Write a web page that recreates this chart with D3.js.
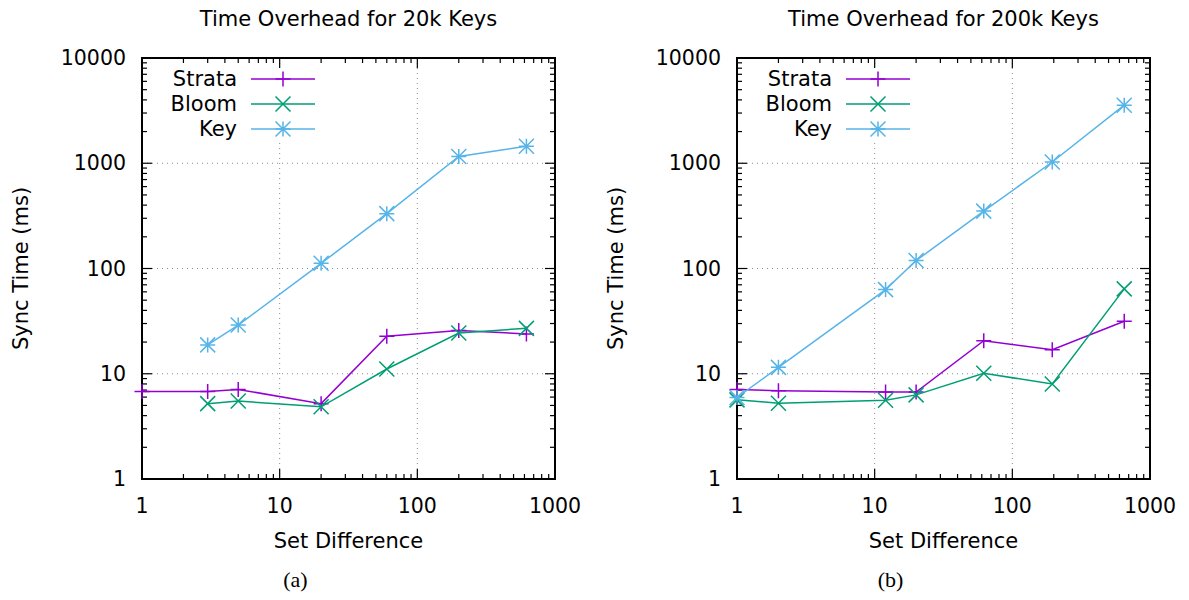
<!DOCTYPE html>
<html>
<head>
<meta charset="utf-8">
<script src="https://cdn.jsdelivr.net/npm/d3@7"></script>
<style>
  body { margin: 0; background: #fff; }
  text { font-family: "DejaVu Sans", sans-serif; fill: #000; }
  .tag { font-family: "Liberation Serif", "DejaVu Serif", serif; }
</style>
</head>
<body>
<svg id="chart" width="1189" height="600"></svg>
<script>

// series names, colours and marker types
var series_names = ["Strata", "Bloom", "Key"]
var series_colors = ["#9400d3", "#009e73", "#56b4e9"]
var series_markers = ["plus", "cross", "star"]

// panel (a): 20k keys
var diff_20k = [1, 3, 5, 20, 60, 200, 620]
var strata_20k = [6.8, 6.8, 7.1, 5.2, 22.7, 25.7, 23.9]
var bloom_20k = [null, 5.2, 5.5, 4.85, 11.1, 24.4, 27]
var key_20k = [null, 18.8, 29, 112, 332, 1160, 1450]

// panel (b): 200k keys
var diff_200k = [1, 2, 12, 20, 62, 195, 650]
var strata_200k = [7.1, 6.9, 6.7, 6.7, 20.6, 16.9, 31.5]
var bloom_200k = [5.65, 5.25, 5.6, 6.3, 10.1, 8.0, 64]
var key_200k = [5.95, 11.5, 63, 119, 351, 1028, 3560]

// axis ticks
var x_ticks = [1, 10, 100, 1000]
var y_ticks = [1, 10, 100, 1000, 10000]

var panels = [
  { left: 142, title: "Time Overhead for 20k Keys", tag: "(a)", x: diff_20k, ys: [strata_20k, bloom_20k, key_20k] },
  { left: 737, title: "Time Overhead for 200k Keys", tag: "(b)", x: diff_200k, ys: [strata_200k, bloom_200k, key_200k] }
]

var svg = d3.select("#chart")
var plot_w = 413, plot_top = 58, plot_bottom = 479

// minor tick values between decades
function minor_ticks(lo, hi){
  var out = []
  for (var d = lo; d < hi; d *= 10)
    for (var k = 2; k < 10; k++) out.push(d * k)
  return out
}

// draw a gnuplot-style point marker
function draw_marker(g, type, cx, cy, color){
  var s = 7.5
  var path = ""
  if (type == "plus" || type == "star")
    path += "M" + (cx - s) + "," + cy + "H" + (cx + s) + "M" + cx + "," + (cy - s) + "V" + (cy + s)
  if (type == "cross" || type == "star")
    path += "M" + (cx - s) + "," + (cy - s) + "L" + (cx + s) + "," + (cy + s) +
            "M" + (cx - s) + "," + (cy + s) + "L" + (cx + s) + "," + (cy - s)
  g.append("path")
    .attr("d", path)
    .attr("stroke", color)
    .attr("stroke-width", 1.5)
    .attr("fill", "none")
}

function draw_panel(p){

  var x = d3.scaleLog().domain([1, 1000]).range([p.left, p.left + plot_w])
  var y = d3.scaleLog().domain([1, 10000]).range([plot_bottom, plot_top])
  var g = svg.append("g")
  var cx = p.left + plot_w / 2

  // grid
  g.selectAll(".gx").data(x_ticks.slice(1, -1)).enter().append("line")
    .attr("x1", function(d){ return x(d) }).attr("x2", function(d){ return x(d) })
    .attr("y1", plot_top).attr("y2", plot_bottom)
    .attr("stroke", "#8c8c8c").attr("stroke-width", 1).attr("stroke-dasharray", "1,4")
  g.selectAll(".gy").data(y_ticks.slice(1, -1)).enter().append("line")
    .attr("y1", function(d){ return y(d) }).attr("y2", function(d){ return y(d) })
    .attr("x1", p.left).attr("x2", p.left + plot_w)
    .attr("stroke", "#8c8c8c").attr("stroke-width", 1).attr("stroke-dasharray", "1,4")

  // legend background hides the grid
  g.append("rect")
    .attr("x", p.left + 8).attr("y", plot_top + 6)
    .attr("width", 178).attr("height", 78)
    .attr("fill", "#fff")

  // ticks on all four sides
  var ticks = g.append("g").attr("stroke", "#000").attr("stroke-width", 1.2)
  x_ticks.concat(minor_ticks(1, 1000)).forEach(function(d){
    var len = x_ticks.indexOf(d) >= 0 ? 10 : 5
    ticks.append("line").attr("x1", x(d)).attr("x2", x(d)).attr("y1", plot_bottom).attr("y2", plot_bottom - len)
    ticks.append("line").attr("x1", x(d)).attr("x2", x(d)).attr("y1", plot_top).attr("y2", plot_top + len)
  })
  y_ticks.concat(minor_ticks(1, 10000)).forEach(function(d){
    var len = y_ticks.indexOf(d) >= 0 ? 10 : 5
    ticks.append("line").attr("y1", y(d)).attr("y2", y(d)).attr("x1", p.left).attr("x2", p.left + len)
    ticks.append("line").attr("y1", y(d)).attr("y2", y(d)).attr("x1", p.left + plot_w).attr("x2", p.left + plot_w - len)
  })

  // frame
  g.append("rect")
    .attr("x", p.left).attr("y", plot_top)
    .attr("width", plot_w).attr("height", plot_bottom - plot_top)
    .attr("fill", "none").attr("stroke", "#000").attr("stroke-width", 2)

  // tick labels
  g.selectAll(".xl").data(x_ticks).enter().append("text")
    .attr("x", function(d){ return x(d) }).attr("y", plot_bottom + 34)
    .attr("text-anchor", "middle").style("font-size", "20.5px")
    .text(function(d){ return d })
  g.selectAll(".yl").data(y_ticks).enter().append("text")
    .attr("x", p.left - 16).attr("y", function(d){ return y(d) + 7 })
    .attr("text-anchor", "end").style("font-size", "20.5px")
    .text(function(d){ return d })

  // titles and labels
  g.append("text").attr("x", cx).attr("y", 26).attr("text-anchor", "middle")
    .style("font-size", "21px").text(p.title)
  g.append("text").attr("x", cx).attr("y", 548).attr("text-anchor", "middle")
    .style("font-size", "21px").text("Set Difference")
  g.append("text").attr("transform", "translate(" + (p.left - 114) + "," + ((plot_top + plot_bottom) / 2) + ") rotate(-90)")
    .attr("text-anchor", "middle").style("font-size", "21px").text("Sync Time (ms)")
  g.append("text").attr("class", "tag").attr("x", cx - 53).attr("y", 587).attr("text-anchor", "middle")
    .style("font-size", "22px").text(p.tag)

  // series lines and markers
  p.ys.forEach(function(vals, i){
    var pts = p.x.map(function(d, j){ return [d, vals[j]] }).filter(function(d){ return d[1] != null })
    var line = d3.line().x(function(d){ return x(d[0]) }).y(function(d){ return y(d[1]) })
    g.append("path").datum(pts)
      .attr("d", line).attr("fill", "none")
      .attr("stroke", series_colors[i]).attr("stroke-width", 1.5)
    pts.forEach(function(d){ draw_marker(g, series_markers[i], x(d[0]), y(d[1]), series_colors[i]) })
  })

  // legend
  series_names.forEach(function(name, i){
    var ly = plot_top + 21 + i * 25
    g.append("text").attr("x", p.left + 95).attr("y", ly + 7)
      .attr("text-anchor", "end").style("font-size", "21px").text(name)
    g.append("line").attr("x1", p.left + 109).attr("x2", p.left + 173)
      .attr("y1", ly).attr("y2", ly)
      .attr("stroke", series_colors[i]).attr("stroke-width", 1.5)
    draw_marker(g, series_markers[i], p.left + 141, ly, series_colors[i])
  })
}

panels.forEach(draw_panel)

</script>
</body>
</html>
